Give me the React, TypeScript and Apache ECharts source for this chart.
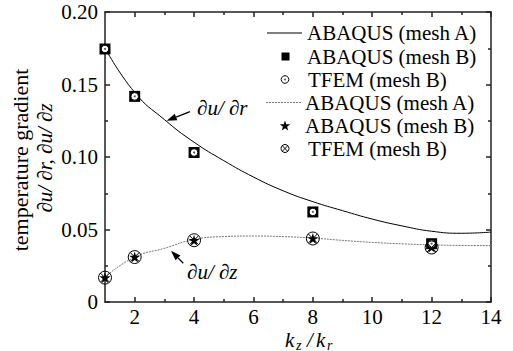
import React, { useEffect, useRef } from 'react';
import * as echarts from 'echarts';

// ---- data ----
const kRatio = [1, 2, 4, 8, 12];
const drAbaqusB = [0.1745, 0.1418, 0.1031, 0.0621, 0.0402];
const drTfemB = [0.1745, 0.1418, 0.1031, 0.0621, 0.0402];
const dzAbaqusB = [0.0168, 0.031, 0.0426, 0.0438, 0.0378];
const dzTfemB = [0.0168, 0.031, 0.0426, 0.0438, 0.0376];
const curveK = [1, 2, 3, 4, 5, 6, 7, 8, 9, 10, 11, 12, 13, 14];
const drAbaqusA = [0.1752, 0.1445, 0.1258, 0.1102, 0.0975, 0.0862, 0.0767, 0.0692, 0.063, 0.0572, 0.0525, 0.0488, 0.0474, 0.0482];
const dzAbaqusA = [0.0172, 0.031, 0.037, 0.0431, 0.0451, 0.0455, 0.0451, 0.0441, 0.0425, 0.0411, 0.0401, 0.0394, 0.039, 0.0389];
const xMajorTicks = [2, 4, 6, 8, 10, 12, 14];
const xMinorTicks = [3, 5, 7, 9, 11, 13];
const legendLabels = ['ABAQUS (mesh A)', 'ABAQUS (mesh B)', 'TFEM (mesh B)', 'ABAQUS (mesh A)', 'ABAQUS (mesh B)', 'TFEM (mesh B)'];

const FONT = 'Liberation Serif';
const AX = '#222';
const STAR = 'path://M50,0L61.2,34.5L97.6,34.5L68.2,55.9L79.4,90.5L50,69.1L20.6,90.5L31.8,55.9L2.4,34.5L38.8,34.5Z';
const CIRCLE_X = 'path://M0,50A50,50 0 1,1 100,50A50,50 0 1,1 0,50ZM15,15L85,85M85,15L15,85';

const pairs = (xs: number[], ys: number[]) => xs.map((x, i) => [x, ys[i]]);

function starPoints(cx: number, cy: number, r: number) {
  const pts: number[][] = [];
  for (let i = 0; i < 10; i++) {
    const rr = i % 2 === 0 ? r : r * 0.4;
    const a = -Math.PI / 2 + (i * Math.PI) / 5;
    pts.push([cx + rr * Math.cos(a), cy + rr * Math.sin(a)]);
  }
  return pts;
}

function arrow(x1: number, y1: number, x2: number, y2: number) {
  const dx = x2 - x1, dy = y2 - y1;
  const len = Math.sqrt(dx * dx + dy * dy);
  const ux = dx / len, uy = dy / len;
  const hl = 10, hw = 3.5;
  const bx = x2 - ux * hl, by = y2 - uy * hl;
  return [
    { type: 'line', shape: { x1, y1, x2: bx, y2: by }, style: { stroke: '#000', lineWidth: 1.3 } },
    {
      type: 'polygon',
      shape: { points: [[x2, y2], [bx - uy * hw, by + ux * hw], [bx + uy * hw, by - ux * hw]] },
      style: { fill: '#000' },
    },
  ];
}

function itText(text: string, x: number, y: number, size: number) {
  return {
    type: 'text',
    x,
    y,
    style: { text, fontFamily: FONT, fontStyle: 'italic', fontSize: size, fill: '#000', align: 'left', verticalAlign: 'middle' },
  };
}

export default function App() {
  const ref = useRef<HTMLDivElement>(null);
  useEffect(() => {
    if (!ref.current) return;
    const chart = echarts.init(ref.current, null, { renderer: 'svg' });
    const labelStyle = { fontFamily: FONT, fontSize: 21, color: '#000' };
    const xBase = { type: 'value', min: 1, max: 14, splitLine: { show: false } };
    const yBase = { type: 'value', min: 0, max: 0.2, interval: 0.05, splitLine: { show: false } };
    const rows = [33, 56.5, 79.5, 102.5, 125.5, 148.5];
    const textX = [307, 307, 308, 305, 305, 308];

    const legendGraphics: any[] = [
      { type: 'line', shape: { x1: 267, y1: rows[0], x2: 302, y2: rows[0] }, style: { stroke: '#000', lineWidth: 1 } },
      { type: 'rect', shape: { x: 281.5, y: rows[1] - 4, width: 8, height: 8 }, style: { fill: '#000' } },
      { type: 'circle', shape: { cx: 285, cy: rows[2], r: 3.8 }, style: { fill: '#fff', stroke: '#000', lineWidth: 1 } },
      { type: 'circle', shape: { cx: 285, cy: rows[2], r: 0.9 }, style: { fill: '#444' } },
      { type: 'line', shape: { x1: 266, y1: rows[3], x2: 302, y2: rows[3] }, style: { stroke: '#777', lineWidth: 1, lineDash: [2, 1] } },
      { type: 'polygon', shape: { points: starPoints(285, rows[4] + 0.5, 5.5) }, style: { fill: '#000' } },
      { type: 'circle', shape: { cx: 285, cy: rows[5], r: 4 }, style: { fill: 'none', stroke: '#000', lineWidth: 1 } },
      { type: 'line', shape: { x1: 282.3, y1: rows[5] - 2.7, x2: 287.7, y2: rows[5] + 2.7 }, style: { stroke: '#000', lineWidth: 1 } },
      { type: 'line', shape: { x1: 287.7, y1: rows[5] - 2.7, x2: 282.3, y2: rows[5] + 2.7 }, style: { stroke: '#000', lineWidth: 1 } },
      ...legendLabels.map((t, i) => ({
        type: 'text',
        x: textX[i],
        y: rows[i],
        style: { text: t, fontFamily: FONT, fontSize: 21, fill: '#000', verticalAlign: 'middle', align: 'left' },
      })),
    ];

    const option: any = {
      animation: false,
      backgroundColor: '#fff',
      grid: { left: 105, right: 22, top: 12, bottom: 49, containLabel: false },
      xAxis: [
        {
          ...xBase,
          position: 'bottom',
          axisLine: { show: true, lineStyle: { color: AX, width: 1.5 } },
          axisTick: { show: true, inside: true, length: 5, customValues: xMajorTicks, lineStyle: { color: AX, width: 1.5 } },
          axisLabel: { show: true, customValues: xMajorTicks, margin: 4, ...labelStyle },
        },
        {
          ...xBase,
          position: 'bottom',
          axisLine: { show: false },
          axisTick: { show: true, inside: true, length: 3, customValues: xMinorTicks, lineStyle: { color: AX, width: 1.5 } },
          axisLabel: { show: false },
        },
        {
          ...xBase,
          position: 'top',
          axisLine: { show: true, lineStyle: { color: AX, width: 1.5 } },
          axisTick: { show: true, inside: true, length: 5, customValues: xMajorTicks, lineStyle: { color: AX, width: 1.5 } },
          axisLabel: { show: false },
        },
        {
          ...xBase,
          position: 'top',
          axisLine: { show: false },
          axisTick: { show: true, inside: true, length: 3, customValues: xMinorTicks, lineStyle: { color: AX, width: 1.5 } },
          axisLabel: { show: false },
        },
      ],
      yAxis: [
        {
          ...yBase,
          position: 'left',
          axisLine: { show: true, lineStyle: { color: AX, width: 1.5 } },
          axisTick: { show: true, inside: true, length: 5, lineStyle: { color: AX, width: 1.5 } },
          minorTick: { show: true, splitNumber: 2, length: 3, lineStyle: { color: AX, width: 1.5 } },
          axisLabel: {
            show: true,
            margin: 7,
            showMinLabel: true,
            showMaxLabel: true,
            formatter: (v: number) => (v === 0 ? '0' : v.toFixed(2)),
            ...labelStyle,
          },
        },
        {
          ...yBase,
          position: 'right',
          axisLine: { show: true, lineStyle: { color: AX, width: 1.5 } },
          axisTick: { show: true, inside: true, length: 5, lineStyle: { color: AX, width: 1.5 } },
          minorTick: { show: true, splitNumber: 2, length: 3, lineStyle: { color: AX, width: 1.5 } },
          axisLabel: { show: false },
        },
      ],
      series: [
        {
          name: 'dr ABAQUS (mesh A)',
          type: 'line',
          data: pairs(curveK, drAbaqusA),
          smooth: 0.5,
          showSymbol: false,
          symbol: 'none',
          lineStyle: { color: '#000', width: 1 },
        },
        {
          name: 'dz ABAQUS (mesh A)',
          type: 'line',
          data: pairs(curveK, dzAbaqusA),
          smooth: 0.5,
          showSymbol: false,
          symbol: 'none',
          lineStyle: { color: '#777', width: 1, type: [2, 1] },
        },
        {
          name: 'dr ABAQUS (mesh B)',
          type: 'scatter',
          data: pairs(kRatio, drAbaqusB),
          symbol: 'rect',
          symbolSize: 11,
          itemStyle: { color: '#000', opacity: 1 },
          z: 3,
        },
        {
          name: 'dr TFEM (mesh B)',
          type: 'scatter',
          data: pairs(kRatio, drTfemB),
          symbol: 'circle',
          symbolSize: 7.5,
          itemStyle: { color: '#fff', borderColor: '#000', borderWidth: 1, opacity: 1 },
          z: 4,
        },
        {
          name: 'dr TFEM (mesh B) dot',
          type: 'scatter',
          data: pairs(kRatio, drTfemB),
          symbol: 'circle',
          symbolSize: 2,
          itemStyle: { color: '#555', opacity: 1 },
          z: 5,
        },
        {
          name: 'dz ABAQUS (mesh B)',
          type: 'scatter',
          data: pairs(kRatio, dzAbaqusB),
          symbol: STAR,
          symbolSize: 11,
          itemStyle: { color: '#000', opacity: 1 },
          z: 3,
        },
        {
          name: 'dz TFEM (mesh B)',
          type: 'scatter',
          data: pairs(kRatio, dzTfemB),
          symbol: CIRCLE_X,
          symbolSize: 13,
          itemStyle: { color: 'none', borderColor: '#000', borderWidth: 1, opacity: 1 },
          z: 4,
        },
      ],
      graphic: [
        ...legendGraphics,
        {
          type: 'text',
          x: 20,
          y: 160,
          rotation: Math.PI / 2,
          style: { text: 'temperature gradient', fontFamily: FONT, fontSize: 22, fill: '#000', align: 'center', verticalAlign: 'middle' },
        },
        {
          type: 'text',
          x: 45,
          y: 158,
          rotation: Math.PI / 2,
          style: { text: '∂u/ ∂r, ∂u/ ∂z', fontFamily: FONT, fontStyle: 'italic', fontSize: 21, fill: '#000', align: 'center', verticalAlign: 'middle' },
        },
        itText('∂u/ ∂r', 197, 108, 21),
        itText('∂u/ ∂z', 187, 272, 21),
        ...arrow(190, 111.7, 166.7, 120.7),
        ...arrow(183.3, 263.3, 171, 250.7),
        itText('k', 285, 340, 21),
        itText('z', 296, 345, 14),
        itText('/', 307, 340, 21),
        itText('k', 316, 340, 21),
        itText('r', 327, 345, 14),
      ],
    };
    chart.setOption(option);
    return () => chart.dispose();
  }, []);
  return <div ref={ref} style={{ position: 'fixed', left: 0, top: 0, width: 513, height: 351, background: '#fff' }} />;
}
